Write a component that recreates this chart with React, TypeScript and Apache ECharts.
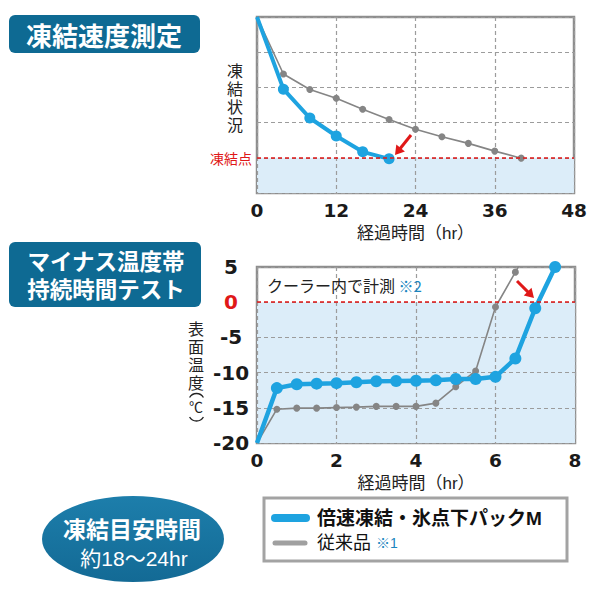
import React, { useEffect, useRef } from "react";
import * as echarts from "echarts";

// ---- data ----
const topHoursNew = [0, 4, 8, 12, 16, 20];
const topStateNew = [5, 2.95, 2.13, 1.62, 1.17, 0.97];
const topHoursOld = [0, 4, 8, 12, 16, 20, 24, 28, 32, 36, 40];
const topStateOld = [5, 3.38, 2.94, 2.69, 2.38, 2.09, 1.81, 1.6, 1.41, 1.19, 0.99];
const freezeLevel = 1;

const botHoursNew = [0, 0.5, 1, 1.5, 2, 2.5, 3, 3.5, 4, 4.5, 5, 5.5, 6, 6.5, 7, 7.5];
const botTempNew = [-20, -12.2, -11.65, -11.57, -11.5, -11.37, -11.23, -11.2, -11.15, -11.1, -10.9, -10.9, -10.6, -8.0, -0.86, 5.0];
const botHoursOld = [0, 0.5, 1, 1.5, 2, 2.5, 3, 3.5, 4, 4.5, 5, 5.5, 6, 6.5, 7];
const botTempOld = [-20, -15.2, -15.05, -15.05, -14.97, -14.9, -14.8, -14.8, -14.8, -14.34, -12.0, -9.77, -0.68, 4.27, 9.3];
const freezeTemp = 0;

const seriesNames = ["倍速凍結・氷点下パックM", "従来品"];

const BLUE = "#1ea3e0";
const GRAY = "#858585";
const RED = "#e01818";
const DARK = "#0e6a93";
const NOTE = "#1a86c0";
const JP = "'Noto Sans CJK JP', 'Noto Sans', sans-serif";
const JPC = "'Liberation Sans', 'Noto Sans CJK JP', sans-serif";
const NUM = "'DejaVu Sans', 'Noto Sans', sans-serif";

function pts(xs: number[], ys: number[]) {
  return xs.map((x, i) =>
    i === 0 ? { value: [x, ys[i]], symbol: "none" } : { value: [x, ys[i]] }
  );
}

function arrow(x1: number, y1: number, tx: number, ty: number) {
  const dx = tx - x1;
  const dy = ty - y1;
  const len = Math.sqrt(dx * dx + dy * dy);
  const ux = dx / len;
  const uy = dy / len;
  const hl = 9;
  const hw = 5.5;
  const bx = tx - ux * hl;
  const by = ty - uy * hl;
  const px = -uy;
  const py = ux;
  return [
    {
      type: "line",
      shape: { x1, y1, x2: bx + ux, y2: by + uy },
      style: { stroke: RED, lineWidth: 3 },
      z: 10,
    },
    {
      type: "polygon",
      shape: {
        points: [
          [tx, ty],
          [bx + px * hw, by + py * hw],
          [bx - px * hw, by - py * hw],
        ],
      },
      style: { fill: RED },
      z: 10,
    },
  ];
}

function vText(text: string, x: number, top: number, lh: number, size: number) {
  return {
    type: "text",
    x,
    y: top,
    style: {
      text: text.split("").join("\n"),
      fill: "#222",
      font: `${size}px ${JPC}`,
      lineHeight: lh,
      align: "center",
      verticalAlign: "top",
    },
  };
}

export default function App() {
  const ref = useRef<HTMLDivElement>(null);
  useEffect(() => {
    if (!ref.current) return;
    const chart = echarts.init(ref.current, null, { renderer: "svg" });
    const splitStyle = { lineStyle: { color: "#9c9c9c", type: [4, 3], width: 1.2 } };
    const gridBase = {
      show: true,
      backgroundColor: "#ffffff",
      borderColor: "#8e8e8e",
      borderWidth: 2.5,
    };
    const xLabel = { fontFamily: NUM, fontWeight: "bold", fontSize: 18.5, color: "#1a1a1a", margin: 8 };
    const xName = {
      name: "経過時間（hr）",
      nameLocation: "middle",
      nameGap: 32,
      nameTextStyle: { fontFamily: JPC, fontSize: 17, color: "#222" },
    };
    const option: any = {
      animation: false,
      grid: [
        { ...gridBase, left: 257, top: 17, width: 317, height: 176 },
        { ...gridBase, left: 257, top: 267, width: 318, height: 176 },
      ],
      xAxis: [
        {
          gridIndex: 0,
          type: "value",
          min: 0,
          max: 48,
          interval: 12,
          z: 1.5,
          axisLine: { show: false },
          axisTick: { show: false },
          splitLine: { show: true, ...splitStyle },
          axisLabel: xLabel,
          ...xName,
        },
        {
          gridIndex: 1,
          type: "value",
          min: 0,
          max: 8,
          interval: 2,
          z: 1.5,
          axisLine: { show: false },
          axisTick: { show: false },
          splitLine: { show: true, ...splitStyle },
          axisLabel: xLabel,
          ...xName,
        },
      ],
      yAxis: [
        {
          gridIndex: 0,
          type: "value",
          min: 0,
          max: 5,
          interval: 1,
          z: 1.5,
          axisLine: { show: false },
          axisTick: { show: false },
          splitLine: { show: true, ...splitStyle },
          axisLabel: {
            formatter: (v: number) => (v === freezeLevel ? "凍結点" : ""),
            fontFamily: JP,
            fontSize: 14,
            color: RED,
            margin: 5,
          },
        },
        {
          gridIndex: 1,
          type: "value",
          min: -20,
          max: 5,
          interval: 5,
          z: 1.5,
          axisLine: { show: false },
          axisTick: { show: false },
          splitLine: { show: true, ...splitStyle },
          axisLabel: {
            fontFamily: NUM,
            fontWeight: "bold",
            fontSize: 20,
            align: "center",
            margin: 26,
            color: (v: any) => (Number(v) === freezeTemp ? RED : "#1a1a1a"),
          },
        },
      ],
      series: [
        {
          name: seriesNames[1],
          type: "line",
          xAxisIndex: 0,
          yAxisIndex: 0,
          data: pts(topHoursOld, topStateOld),
          lineStyle: { color: GRAY, width: 1.6 },
          itemStyle: { color: GRAY },
          symbol: "circle",
          symbolSize: 7,
          z: 2,
          markArea: {
            silent: true,
            itemStyle: { color: "#dcedf9" },
            data: [[{ yAxis: 0 }, { yAxis: freezeLevel }]],
          },
          markLine: {
            silent: true,
            symbol: "none",
            label: { show: false },
            lineStyle: { color: RED, type: [4, 3], width: 1.5 },
            data: [{ yAxis: freezeLevel }],
          },
        },
        {
          name: seriesNames[0],
          type: "line",
          xAxisIndex: 0,
          yAxisIndex: 0,
          data: pts(topHoursNew, topStateNew),
          lineStyle: { color: BLUE, width: 4 },
          itemStyle: { color: BLUE },
          symbol: "circle",
          symbolSize: 11,
          z: 3,
        },
        {
          name: seriesNames[1],
          type: "line",
          xAxisIndex: 1,
          yAxisIndex: 1,
          data: pts(botHoursOld, botTempOld),
          lineStyle: { color: GRAY, width: 1.6 },
          itemStyle: { color: GRAY },
          symbol: "circle",
          symbolSize: 7,
          z: 2,
          markArea: {
            silent: true,
            itemStyle: { color: "#dcedf9" },
            data: [[{ yAxis: -20 }, { yAxis: freezeTemp }]],
          },
          markLine: {
            silent: true,
            symbol: "none",
            label: { show: false },
            lineStyle: { color: RED, type: [4, 3], width: 1.5 },
            data: [{ yAxis: freezeTemp }],
          },
        },
        {
          name: seriesNames[0],
          type: "line",
          xAxisIndex: 1,
          yAxisIndex: 1,
          data: pts(botHoursNew, botTempNew),
          lineStyle: { color: BLUE, width: 4.5 },
          itemStyle: { color: BLUE },
          symbol: "circle",
          symbolSize: 12,
          z: 3,
        },
      ],
      graphic: [
        // title box 1
        { type: "rect", shape: { x: 9, y: 15, width: 191, height: 38, r: 6 }, style: { fill: DARK } },
        {
          type: "text",
          x: 104,
          y: 34,
          style: {
            text: "凍結速度測定",
            fill: "#fff",
            font: `bold 26px ${JP}`,
            align: "center",
            verticalAlign: "middle",
          },
        },
        // title box 2
        { type: "rect", shape: { x: 9, y: 242, width: 192, height: 65, r: 6 }, style: { fill: DARK } },
        {
          type: "text",
          x: 106,
          y: 262,
          style: { text: "マイナス温度帯", fill: "#fff", font: `bold 22.5px ${JPC}`, align: "center", verticalAlign: "middle" },
        },
        {
          type: "text",
          x: 106,
          y: 290,
          style: { text: "持続時間テスト", fill: "#fff", font: `bold 22.5px ${JPC}`, align: "center", verticalAlign: "middle" },
        },
        // vertical axis names
        vText("凍結状況", 235, 63, 17.8, 16),
        vText("表面温度", 196, 321, 17.8, 16),
        {
          type: "arc",
          shape: { cx: 196.5, cy: 401.5, r: 8, startAngle: (-150 * Math.PI) / 180, endAngle: (-30 * Math.PI) / 180, clockwise: true },
          style: { stroke: "#222", lineWidth: 1.3, fill: "none" },
        },
        {
          type: "text",
          x: 196,
          y: 407,
          style: { text: "℃", fill: "#222", font: `14px ${JPC}`, align: "center", verticalAlign: "middle" },
        },
        {
          type: "arc",
          shape: { cx: 196.5, cy: 413, r: 8, startAngle: (30 * Math.PI) / 180, endAngle: (150 * Math.PI) / 180, clockwise: true },
          style: { stroke: "#222", lineWidth: 1.3, fill: "none" },
        },
        // note in bottom chart
        {
          type: "text",
          x: 267,
          y: 285,
          style: {
            text: "{a|クーラー内で計測 }{b|※2}",
            verticalAlign: "middle",
            rich: {
              a: { fontFamily: JP, fontSize: 16, fill: "#222" },
              b: { fontFamily: JP, fontSize: 15, fill: NOTE },
            },
          },
          z: 10,
        },
        // arrows
        ...arrow(411, 135, 395, 155),
        ...arrow(517, 281, 534, 298),
        // ellipse badge
        {
          type: "ellipse",
          shape: { cx: 133, cy: 539, rx: 91, ry: 43 },
          style: {
            fill: {
              type: "linear",
              x: 0,
              y: 0,
              x2: 0,
              y2: 1,
              colorStops: [
                { offset: 0, color: "#1d7eab" },
                { offset: 1, color: "#136a95" },
              ],
            },
          },
        },
        {
          type: "text",
          x: 132,
          y: 530,
          style: { text: "凍結目安時間", fill: "#fff", font: `bold 23px ${JPC}`, align: "center", verticalAlign: "middle" },
        },
        {
          type: "text",
          x: 134,
          y: 558,
          style: { text: "約18〜24hr", fill: "#fff", font: `21px ${JPC}`, align: "center", verticalAlign: "middle" },
        },
        // legend
        {
          type: "rect",
          shape: { x: 264, y: 498, width: 303, height: 63 },
          style: { fill: "#fff", stroke: "#a3a3a3", lineWidth: 3 },
        },
        {
          type: "line",
          shape: { x1: 275, y1: 518, x2: 306, y2: 518 },
          style: { stroke: BLUE, lineWidth: 8, lineCap: "round" },
        },
        {
          type: "text",
          x: 317,
          y: 518,
          style: { text: seriesNames[0], fill: "#111", font: `bold 19px ${JPC}`, verticalAlign: "middle" },
        },
        {
          type: "line",
          shape: { x1: 275, y1: 543, x2: 305, y2: 543 },
          style: { stroke: "#a0a0a0", lineWidth: 5, lineCap: "round" },
        },
        {
          type: "text",
          x: 317,
          y: 543,
          style: {
            text: "{a|" + seriesNames[1] + " }{b|※1}",
            verticalAlign: "middle",
            rich: {
              a: { fontFamily: JPC, fontSize: 18, fill: "#111" },
              b: { fontFamily: JPC, fontSize: 14, fill: NOTE },
            },
          },
        },
      ],
    };
    chart.setOption(option);
    return () => chart.dispose();
  }, []);
  return (
    <div
      ref={ref}
      style={{ position: "fixed", left: 0, top: 0, width: 600, height: 600, background: "#fff" }}
    />
  );
}
